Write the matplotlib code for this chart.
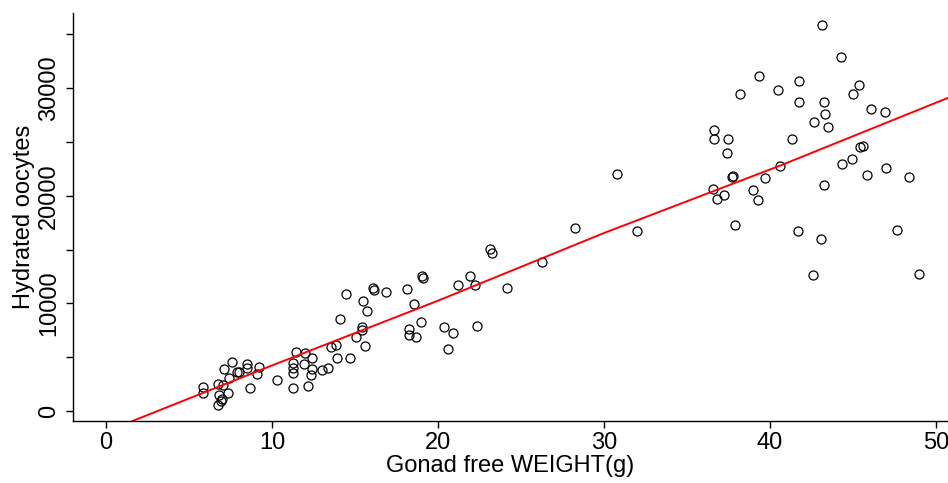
import numpy as np
import matplotlib
matplotlib.use('Agg')
import matplotlib.pyplot as plt

plt.rcParams['font.family'] = ['Liberation Sans', 'DejaVu Sans']

# gonad free weight (g) and hydrated oocytes
weight = [5.82, 5.82, 6.77, 7.09, 7.61, 7.39, 7.04, 7.35, 6.81, 7.01,
          6.91, 6.77, 7.87, 8.03, 8.47, 8.49, 9.25, 9.10, 8.67, 10.32,
          11.45, 11.28, 11.28, 11.28, 11.28, 11.97, 11.93, 12.43, 12.43, 12.33,
          12.17, 13.03, 13.39, 13.54, 13.86, 13.93, 14.70, 14.10, 14.44, 15.08,
          15.40, 15.42, 15.60, 15.48, 15.72, 16.10, 16.14, 16.85, 18.15, 18.55,
          18.98, 18.27, 18.27, 18.67, 19.02, 19.08, 20.36, 20.88, 20.60, 21.20,
          21.90, 22.25, 22.37, 23.15, 23.27, 24.16, 26.27, 28.27, 30.78, 31.99,
          43.15, 44.26, 39.34, 38.21, 40.50, 41.77, 41.77, 43.25, 43.33, 42.63,
          43.47, 45.38, 45.00, 46.06, 46.95, 36.65, 36.60, 37.45, 41.30, 37.39,
          45.44, 45.58, 44.96, 44.32, 40.58, 45.86, 47.00, 48.39, 43.25, 37.73,
          37.76, 39.68, 36.58, 38.98, 37.25, 36.79, 39.30, 37.91, 41.70, 43.07,
          47.65, 42.59, 48.95]
oocytes = [2260, 1700, 2530, 3900, 4550, 3050, 2390, 1700, 1460, 1090,
           900, 530, 3650, 3620, 4340, 3970, 4120, 3470, 2140, 2850,
           5470, 4440, 3970, 3520, 2090, 5390, 4400, 4930, 3900, 3320,
           2350, 3840, 4020, 5980, 6130, 4930, 4960, 8520, 10900, 6880,
           7840, 7500, 6070, 10250, 9320, 11400, 11250, 11030, 11370, 9970,
           8300, 7620, 7060, 6850, 12580, 12360, 7810, 7250, 5760, 11740,
           12520, 11740, 7870, 15060, 14650, 11460, 13840, 16980, 22030, 16730,
           35870, 32930, 31100, 29430, 29860, 30700, 28720, 28720, 27600, 26830,
           26360, 30330, 29490, 28040, 27760, 26090, 25310, 25310, 25310, 23980,
           24540, 24600, 23420, 22980, 22800, 21960, 22580, 21720, 21030, 21780,
           21820, 21650, 20630, 20540, 20070, 19700, 19640, 17260, 16730, 16010,
           16850, 12640, 12760]

# fitted line
fit_x = [1.6, 10, 20, 30, 40.6, 50.7]
fit_y = [-930, 4230, 10250, 16540, 22800, 29090]

fig = plt.figure(figsize=(9.48, 4.83), dpi=100)
ax = fig.add_axes([0.0767, 0.1284, 0.9233, 0.8453])

ax.plot(weight, oocytes, 'o', ms=6.5, mfc='none', mec='black', mew=0.9)
ax.plot(fit_x, fit_y, color='red', lw=1.4)

ax.set_xlim(-2.0, 50.72)
ax.set_ylim(-929, 37017)
ax.set_xticks([0, 10, 20, 30, 40, 50])
ax.set_yticks([0, 10000, 20000, 30000])
ax.set_yticks([5000, 15000, 25000, 35000], minor=True)

ax.spines['top'].set_visible(False)
ax.spines['right'].set_visible(False)
for s in ['left', 'bottom']:
    ax.spines[s].set_linewidth(1.0)

ax.tick_params(axis='both', which='both', direction='out', length=5, width=1.0, labelsize=17)
ax.tick_params(axis='x', pad=3)
ax.tick_params(axis='y', pad=4)
for lab in ax.get_yticklabels():
    lab.set_rotation(90)
    lab.set_va('center')

ax.set_xlabel('Gonad free WEIGHT(g)', fontsize=17, labelpad=1)
ax.set_ylabel('Hydrated oocytes', fontsize=17, labelpad=2)

fig.savefig('out.png', dpi=100)
